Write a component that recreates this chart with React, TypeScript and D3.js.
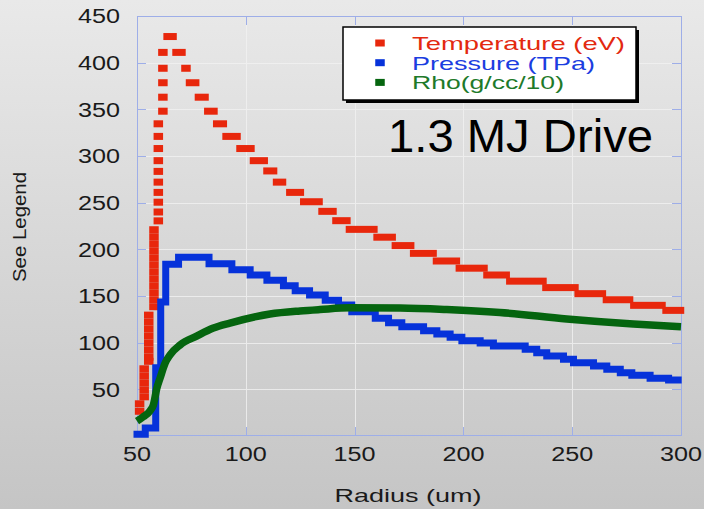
import React from "react";
import * as d3 from "d3";

// Axis ticks
const RADIUS_TICKS = [50, 100, 150, 200, 250, 300];
const VALUE_TICKS = [50, 100, 150, 200, 250, 300, 350, 400, 450];

// Temperature (eV): each entry is one plotted level spanning radius tempStart..tempEnd
const tempStart = [
  51.2, 51.2,
  53.3, 53.3, 53.3, 53.3, 53.3,
  55.4, 55.4, 55.4, 55.4, 55.4, 55.4, 55.4, 55.4,
  57.8, 57.8, 57.8, 57.8, 57.8, 57.8, 57.8, 57.8, 57.8, 57.8, 57.8, 57.8,
  59.8, 59.8, 59.8, 59.8, 59.8, 59.8, 59.8, 59.8, 59.8, 59.8,
  61.9, 61.9, 61.9, 61.9, 61.9,
  64.3, 68.4, 72.5, 74.6, 78.7, 83.0, 87.1, 91.4, 97.8, 104.0, 110.2, 114.6,
  120.7, 127.1, 135.5, 141.9, 148.1, 160.8, 169.2, 177.6, 188.1, 198.6, 211.3,
  221.8, 238.4, 253.2, 266.2, 278.8, 293.6,
];
const tempEnd = [
  51.2, 51.2,
  53.3, 53.3, 53.3, 53.3, 53.3,
  55.4, 55.4, 55.4, 55.4, 55.4, 55.4, 55.4, 55.4,
  57.8, 57.8, 57.8, 57.8, 57.8, 57.8, 57.8, 57.8, 57.8, 57.8, 57.8, 57.8,
  59.8, 59.8, 59.8, 59.8, 59.8, 59.8, 59.8, 59.8, 59.8, 59.8,
  61.9, 61.9, 61.9, 61.9, 61.9,
  66.1, 70.2, 72.5, 76.5, 80.8, 84.9, 89.2, 95.5, 101.9, 108.0, 112.3, 116.4,
  124.6, 133.2, 139.6, 146.0, 158.4, 166.8, 175.3, 185.6, 196.3, 209.0, 219.2,
  236.1, 250.8, 263.4, 275.9, 290.8, 299.3,
];
const tempValue = [
  26.5, 34.5,
  42, 49.5, 57, 64.5, 72,
  80, 84.5, 92, 99.5, 107, 114.5, 122, 129.5,
  138.5, 146, 153.5, 161, 168.5, 176, 183.5, 191, 198.5, 206, 213.5, 221,
  230.5, 240, 250.5, 261, 272, 283.5, 295, 308, 321, 334.5,
  348, 363, 378.5, 394, 411,
  428, 411, 394, 378.5, 363, 348, 334.5, 321, 308, 295, 284, 272,
  261, 251, 240.7, 230.7, 221.4, 213, 204, 195.7, 187.5, 179.8, 172.5,
  165.9, 159, 152.5, 146, 140, 134.6,
];

// Pressure (TPa): stepped profile, value holds from each radius to the next
const pressRadius = [
  50, 53.8, 58.6, 60.9, 63.2, 69.1, 83.1, 93.6, 102.0, 109.7, 117.3, 122.7,
  129.3, 136.5, 142.6, 148.7, 159.5, 165.6, 171.7, 181.7, 187.8, 193.9, 199.3,
  207.7, 213.8, 228.4, 233.7, 238.3, 246.0, 250.6, 259.8, 265.9, 272.1, 277.4,
  285.8, 294.3, 298.7,
];
const pressValue = [
  2, 8.5, 73, 143.6, 184, 191.5, 184.6, 178.2, 172.5, 166.8, 161, 155.5,
  151, 145.4, 140.4, 133.2, 126.1, 121.4, 117.1, 112.8, 109.3, 105.8, 102.1,
  99.6, 96.4, 92.9, 89.3, 85.7, 82.2, 78.5, 75, 71.5, 67.8, 65,
  61.8, 60, 60,
];

// Density (g/cc/10)
const rhoRadius = [
  50, 52.8, 56, 57.5, 59.1, 60.6, 62.9, 65.2, 69.8, 77.4, 85.1, 92.7, 111.1,
  124.9, 134.1, 147.9, 170.9, 192.3, 216.8, 247.5, 278.1, 300,
];
const rhoValue = [
  16, 20.5, 27, 33, 51, 62, 78, 87, 97.5, 107, 115.7, 121, 130.7,
  134, 135.5, 137.3, 137.1, 135.5, 132.3, 125.4, 120, 117,
];

const LEGEND_LABELS = ["Temperature (eV)", "Pressure (TPa)", "Rho(g/cc/10)"];
const LEGEND_WIDTHS = [213, 183, 152];

const RED = "#e8270c";
const BLUE = "#0632da";
const GREEN = "#05650f";
const TEXT_COLORS = ["#e3290f", "#1b3de0", "#1e7a2a"];
const AXIS_BLUE = "#9eaee8";
const FONT = "'Liberation Sans', Arial, Helvetica, sans-serif";

const W = 704;
const H = 509;
const left = 137;
const right = 681;
const top = 16;
const bottom = 436;

export default function App() {
  const x = d3.scaleLinear().domain([50, 300]).range([left, right]);
  const y = d3.scaleLinear().domain([0, 450]).range([bottom, top]);

  const markW = 9.5;
  const markH = 7;

  const pressPts = pressRadius.map((r, i) => [r, pressValue[i]] as [number, number]);
  const rhoPts = rhoRadius.map((r, i) => [r, rhoValue[i]] as [number, number]);

  const stepLine = d3
    .line<[number, number]>()
    .x((d) => x(d[0]))
    .y((d) => y(d[1]))
    .curve(d3.curveStepAfter);
  const smoothLine = d3
    .line<[number, number]>()
    .x((d) => x(d[0]))
    .y((d) => y(d[1]))
    .curve(d3.curveMonotoneX);

  const tickLen = 9;

  return (
    <svg
      width={W}
      height={H}
      style={{ position: "absolute", left: 0, top: 0, fontFamily: FONT }}
    >
      <defs>
        <linearGradient id="bg" x1="0" y1="0" x2="0" y2="1">
          <stop offset="0" stopColor="#e9e9e9" />
          <stop offset="1" stopColor="#c5c5c5" />
        </linearGradient>
      </defs>
      <rect x={0} y={0} width={W} height={H} fill="url(#bg)" />

      {/* grid */}
      <g stroke="#f2f2f2" strokeWidth={1} opacity={0.8}>
        {VALUE_TICKS.slice(0, -1).map((t) => (
          <line key={"gy" + t} x1={left} x2={right} y1={Math.round(y(t)) + 0.5} y2={Math.round(y(t)) + 0.5} />
        ))}
        {RADIUS_TICKS.slice(1, -1).map((t) => (
          <line key={"gx" + t} x1={Math.round(x(t)) + 0.5} x2={Math.round(x(t)) + 0.5} y1={top} y2={bottom} />
        ))}
      </g>

      {/* frame and ticks */}
      <g stroke={AXIS_BLUE} strokeWidth={1} fill="none">
        <rect x={left + 0.5} y={top + 0.5} width={right - left} height={bottom - top - 1} />
        {VALUE_TICKS.map((t) => (
          <g key={"ty" + t}>
            <line x1={left} x2={left + tickLen} y1={Math.round(y(t)) + 0.5} y2={Math.round(y(t)) + 0.5} />
            <line x1={right - tickLen} x2={right} y1={Math.round(y(t)) + 0.5} y2={Math.round(y(t)) + 0.5} />
          </g>
        ))}
        {RADIUS_TICKS.map((t) => (
          <g key={"tx" + t}>
            <line x1={Math.round(x(t)) + 0.5} x2={Math.round(x(t)) + 0.5} y1={bottom} y2={bottom - tickLen} />
            <line x1={Math.round(x(t)) + 0.5} x2={Math.round(x(t)) + 0.5} y1={top} y2={top + tickLen} />
          </g>
        ))}
      </g>

      {/* tick labels */}
      <g fill="#1a1a1a" fontSize={20}>
        {VALUE_TICKS.map((t) => (
          <text
            key={"ly" + t}
            x={120}
            y={y(t) + 7.2}
            textAnchor="end"
            textLength={String(t).length * 14}
            lengthAdjust="spacingAndGlyphs"
          >
            {t}
          </text>
        ))}
        {RADIUS_TICKS.map((t) => (
          <text
            key={"lx" + t}
            x={x(t)}
            y={461}
            textAnchor="middle"
            textLength={String(t).length * 14}
            lengthAdjust="spacingAndGlyphs"
          >
            {t}
          </text>
        ))}
      </g>

      {/* axis titles */}
      <text
        transform="translate(26,227) rotate(-90)"
        textAnchor="middle"
        fontSize={19}
        fill="#1a1a1a"
        textLength={110}
        lengthAdjust="spacingAndGlyphs"
      >
        See Legend
      </text>
      <text
        x={408}
        y={502}
        textAnchor="middle"
        fontSize={19}
        fill="#1a1a1a"
        textLength={147}
        lengthAdjust="spacingAndGlyphs"
      >
        Radius (um)
      </text>

      {/* temperature markers */}
      <g fill={RED}>
        {tempValue.map((v, i) => (
          <rect
            key={"t" + i}
            x={x(tempStart[i]) - markW / 2}
            y={y(v) - markH / 2}
            width={x(tempEnd[i]) - x(tempStart[i]) + markW}
            height={markH}
          />
        ))}
      </g>

      {/* pressure */}
      <path
        d={stepLine(pressPts) || ""}
        fill="none"
        stroke={BLUE}
        strokeWidth={7}
        strokeLinecap="square"
        strokeLinejoin="miter"
      />

      {/* density */}
      <path
        d={smoothLine(rhoPts) || ""}
        fill="none"
        stroke={GREEN}
        strokeWidth={7.5}
        strokeLinecap="butt"
      />

      {/* legend */}
      <g>
        <rect x={346} y={30} width={293} height={73} fill="#000" />
        <rect x={343} y={27} width={293} height={73} fill="#fff" stroke="#000" strokeWidth={1.5} />
        {LEGEND_LABELS.map((label, i) => {
          const cy = 43 + i * 19.7;
          return (
            <g key={label}>
              <rect x={380 - markW / 2} y={cy - markH / 2} width={markW} height={markH} fill={[RED, BLUE, GREEN][i]} />
              <text
                x={412}
                y={cy + 6.8}
                fontSize={19}
                fill={TEXT_COLORS[i]}
                textLength={LEGEND_WIDTHS[i]}
                lengthAdjust="spacingAndGlyphs"
              >
                {label}
              </text>
            </g>
          );
        })}
      </g>

      <text
        x={388}
        y={152}
        fontSize={46}
        fill="#000"
        textLength={265}
        lengthAdjust="spacingAndGlyphs"
      >
        1.3 MJ Drive
      </text>
    </svg>
  );
}
